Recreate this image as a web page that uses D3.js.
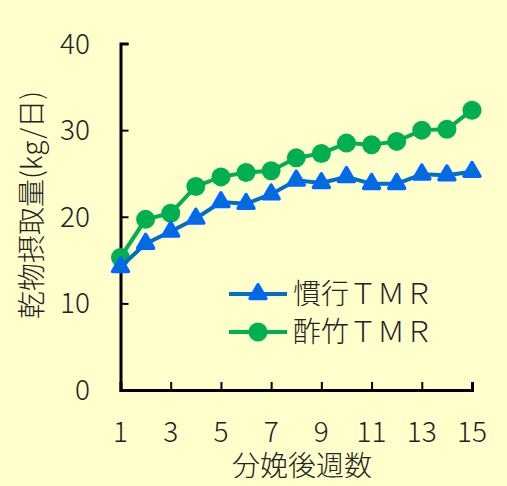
<!DOCTYPE html>
<html>
<head>
<meta charset="utf-8">
<script src="https://cdn.jsdelivr.net/npm/d3@7"></script>
<style>
  html, body { margin: 0; padding: 0; background: #FFFFCC; }
  svg { display: block; }
  text { font-family: "Noto Sans CJK JP", "Noto Sans", sans-serif; font-weight: 300; fill: #222; }
</style>
</head>
<body>
<svg id="chart" width="507" height="486"></svg>
<script>
// Weeks after calving
const weeks = [1, 2, 3, 4, 5, 6, 7, 8, 9, 10, 11, 12, 13, 14, 15];
// Dry matter intake (kg/day)
const conventionalTMR = [14.2, 16.9, 18.3, 19.8, 21.7, 21.5, 22.6, 24.2, 23.9, 24.6, 23.8, 23.8, 24.9, 24.8, 25.2];
const fermentedBambooTMR = [15.3, 19.7, 20.4, 23.5, 24.6, 25.1, 25.3, 26.8, 27.3, 28.5, 28.3, 28.7, 30.0, 30.1, 32.3];
const seriesNames = ["慣行ＴＭＲ", "酢竹ＴＭＲ"];
const yTicks = [0, 10, 20, 30, 40];
const xTicks = [1, 3, 5, 7, 9, 11, 13, 15];
const xTitle = "分娩後週数";
const yTitle = "乾物摂取量(kg/日)";

const svg = d3.select("#chart");
const x = d3.scaleLinear().domain([1, 15]).range([120.5, 472]);
const y = d3.scaleLinear().domain([0, 40]).range([390, 43.5]);

const blueLine = "#0070C0", blueMark = "#0066FF", green = "#00B050";

// Axes: ticks point inward, labels drawn separately
const yAxis = svg.append("g").attr("transform", `translate(${x(1)},0)`)
  .call(d3.axisRight(y).tickValues(yTicks).tickSize(8).tickFormat(""));
const xAxis = svg.append("g").attr("transform", `translate(0,${y(0)})`)
  .call(d3.axisTop(x).tickValues(xTicks).tickSize(8).tickFormat(""));
[yAxis, xAxis].forEach(g => {
  g.select(".domain").attr("stroke", "#000").attr("stroke-width", 3);
  g.selectAll(".tick line").attr("stroke", "#000").attr("stroke-width", 2);
});

svg.append("g").selectAll("text").data(yTicks).join("text")
  .attr("x", 90).attr("y", d => y(d)).attr("dy", "0.36em")
  .attr("text-anchor", "end").attr("font-size", 28).text(d => d);
svg.append("g").selectAll("text").data(xTicks).join("text")
  .attr("x", d => x(d)).attr("y", 442)
  .attr("text-anchor", "middle").attr("font-size", 28).text(d => d);

svg.append("text").attr("x", 302).attr("y", 476)
  .attr("text-anchor", "middle").attr("font-size", 28).text(xTitle);
svg.append("text")
  .attr("transform", `translate(42,${(77 + 333) / 2}) rotate(-90)`)
  .attr("text-anchor", "middle").attr("font-size", 28).text(yTitle);

const line = d3.line().x((d, i) => x(weeks[i])).y(d => y(d));
const tri = d3.symbol().type(d3.symbolTriangle).size(110);

function drawBlue(g, data) {
  g.append("path").datum(data).attr("d", line)
    .attr("fill", "none").attr("stroke", blueLine).attr("stroke-width", 4);
  g.selectAll("path.m").data(data).join("path").attr("class", "m")
    .attr("transform", (d, i) => `translate(${x(weeks[i])},${y(d)})`)
    .attr("d", tri).attr("fill", blueLine).attr("stroke", blueMark)
    .attr("stroke-width", 3.5).attr("stroke-linejoin", "round");
}
function drawGreen(g, data) {
  g.append("path").datum(data).attr("d", line)
    .attr("fill", "none").attr("stroke", green).attr("stroke-width", 4);
  g.selectAll("circle").data(data).join("circle")
    .attr("cx", (d, i) => x(weeks[i])).attr("cy", d => y(d))
    .attr("r", 9.5).attr("fill", green);
}
drawGreen(svg.append("g"), fermentedBambooTMR);
drawBlue(svg.append("g"), conventionalTMR);

// Legend
const lg = svg.append("g");
const rows = [{ name: seriesNames[0], yy: 294 }, { name: seriesNames[1], yy: 332 }];
rows.forEach((r, i) => {
  lg.append("line").attr("x1", 229).attr("x2", 287).attr("y1", r.yy).attr("y2", r.yy)
    .attr("stroke", i === 0 ? blueLine : green).attr("stroke-width", 4);
  if (i === 0) {
    lg.append("path").attr("transform", `translate(258,${r.yy})`).attr("d", tri)
      .attr("fill", blueLine).attr("stroke", blueMark).attr("stroke-width", 3.5)
      .attr("stroke-linejoin", "round");
  } else {
    lg.append("circle").attr("cx", 258).attr("cy", r.yy).attr("r", 9.5).attr("fill", green);
  }
  lg.append("text").attr("x", 293).attr("y", r.yy).attr("dy", "0.36em")
    .attr("font-size", 28).text(r.name);
});
</script>
</body>
</html>
